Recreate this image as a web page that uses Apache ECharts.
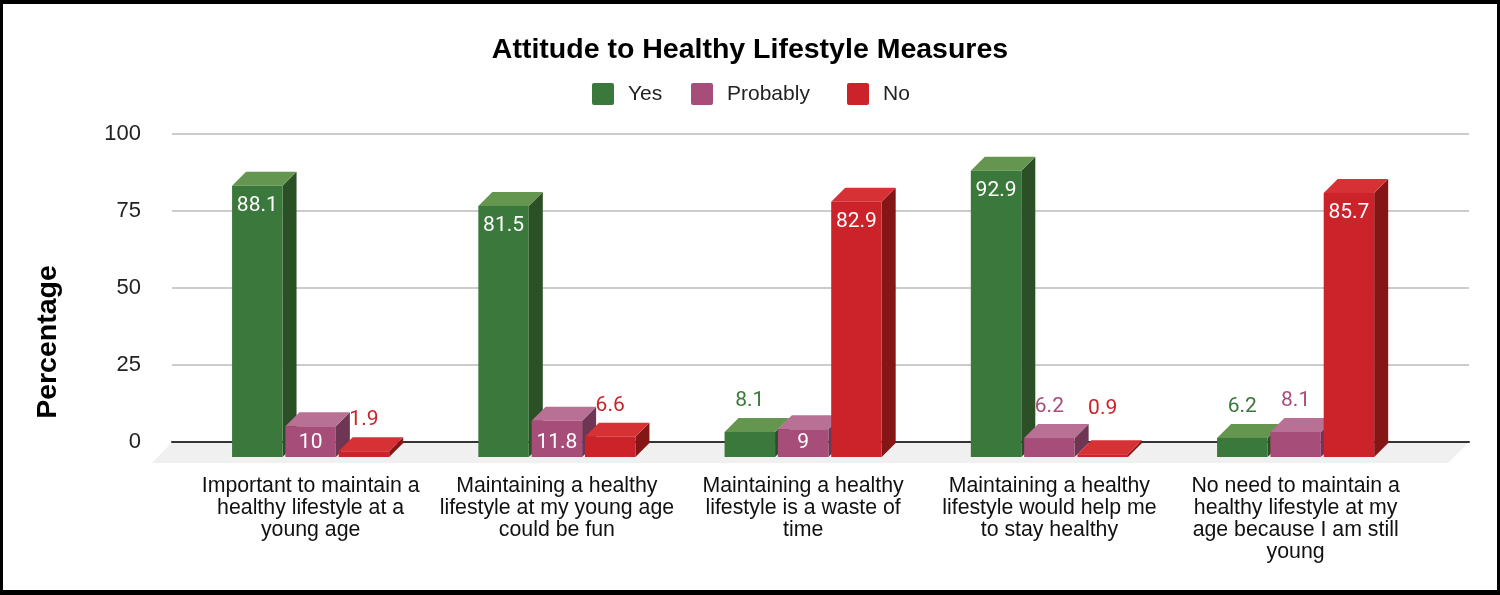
<!DOCTYPE html>
<html>
<head>
<meta charset="utf-8">
<script src="https://cdn.jsdelivr.net/npm/echarts@6/dist/echarts.min.js"></script>
<style>
html,body{margin:0;padding:0;background:#000;width:1500px;height:595px;overflow:hidden}
#frame{position:absolute;left:3px;top:4px;width:1494px;height:586px;background:#fff;overflow:hidden}
#main{position:absolute;left:-3px;top:-4px;width:1500px;height:595px}
</style>
</head>
<body>
<div id="frame"><div id="main"></div></div>
<script>
const categories = [
  "Important to maintain a\nhealthy lifestyle at a\nyoung age",
  "Maintaining a healthy\nlifestyle at my young age\ncould be fun",
  "Maintaining a healthy\nlifestyle is a waste of\ntime",
  "Maintaining a healthy\nlifestyle would help me\nto stay healthy",
  "No need to maintain a\nhealthy lifestyle at my\nage because I am still\nyoung"
];
const yesValues = [88.1, 81.5, 8.1, 92.9, 6.2];
const probablyValues = [10, 11.8, 9, 6.2, 8.1];
const noValues = [1.9, 6.6, 82.9, 0.9, 85.7];
const yTicks = [0, 25, 50, 75, 100];

const chart = echarts.init(document.getElementById('main'), null, {renderer:'canvas'});
const DEPTH = 14;
const FONT = '"Liberation Sans", Arial, sans-serif';
const SWATCH = 'path://M2 0H20Q22 0 22 2V20Q22 22 20 22H2Q0 22 0 20V2Q0 0 2 0Z';

function bars3d(colors, slot) {
  return function (params, api) {
    const idx = api.value(0), v = api.value(1);
    const band = api.size([1, 0])[0];
    const w = band * 0.205;
    const c = api.coord([idx, v]);
    const b = api.coord([idx, 0]);
    const cx = c[0] + slot * band * 0.2165;
    const x0 = cx - w / 2, x1 = cx + w / 2, top = c[1], bot = b[1];
    const d = DEPTH;
    const poly = (pts, fill) => ({type:'polygon', shape:{points:pts}, style:{fill:fill}});
    let ly, fill;
    if (v >= 9) {
      ly = v < 15 ? bot - 14 : top + 20;
      fill = '#fff';
    } else {
      ly = top - d - (v < 1 ? 31 : 17);
      fill = colors.front;
    }
    return {
      type:'group',
      children:[
        poly([[x1,top],[x1+d,top-d],[x1+d,bot-d],[x1,bot]], colors.side),
        poly([[x0,top],[x0+d,top-d],[x1+d,top-d],[x1,top]], colors.top),
        poly([[x0,top],[x1,top],[x1,bot],[x0,bot]], colors.front),
        {type:'text', z2:10, style:{
          text:String(v), x:cx, y:ly, align:'center', verticalAlign:'middle',
          fill:fill, font:'400 21px Roboto, sans-serif'
        }}
      ]
    };
  };
}
const green = {front:'#3b783b', top:'#65964f', side:'#2c5026'};
const purple = {front:'#a64d79', top:'#b87095', side:'#6e3653'};
const red = {front:'#cc2229', top:'#d63235', side:'#851616'};

function mk(name, values, colors, slot) {
  return {
    name:name, type:'custom', xAxisIndex:1, yAxisIndex:1, z:3,
    itemStyle:{color:colors.front},
    encode:{x:0,y:1},
    data:values.map((v,i)=>[i,v]),
    renderItem:bars3d(colors, slot)
  };
}
function lg(name, left) {
  return {
    left:left, top:78, itemWidth:22, itemHeight:22, icon:SWATCH,
    data:[name],
    textStyle:{fontFamily:FONT, fontSize:21, color:'#222', padding:[2,0,0,9]}
  };
}

chart.setOption({
  animation:false,
  backgroundColor:'transparent',
  title:{
    text:'Attitude to Healthy Lifestyle Measures',
    left:'center', top:31,
    textStyle:{fontFamily:FONT, fontWeight:'bold', fontSize:28.5, color:'#000'}
  },
  legend:[lg('Yes',587), lg('Probably',686), lg('No',842)],
  grid:[
    {left:172, width:1297, top:134, height:308},
    {left:187.5, width:1231.25, top:149, height:308}
  ],
  xAxis:[
    {type:'value', gridIndex:0, min:0, max:1, z:2,
     axisLine:{show:true, onZero:false, lineStyle:{color:'#333', width:2}},
     axisTick:{show:false}, axisLabel:{show:false}, splitLine:{show:false}},
    {type:'category', gridIndex:1, data:categories, boundaryGap:true,
     axisLine:{show:false}, axisTick:{show:false},
     axisLabel:{margin:18, interval:0, fontFamily:FONT, fontSize:21.3, lineHeight:22, color:'#111', align:'center', verticalAlign:'top'}}
  ],
  yAxis:[
    {type:'value', gridIndex:0, min:0, max:100, interval:25,
     name:'Percentage', nameLocation:'middle', nameGap:109,
     nameTextStyle:{fontFamily:FONT, fontWeight:'bold', fontSize:28.5, color:'#000', padding:[0,108,0,0]},
     axisLine:{show:false}, axisTick:{show:false},
     axisLabel:{margin:31, fontFamily:FONT, fontSize:22, color:'#222', padding:[4,0,0,0],
       formatter:v=>yTicks.includes(v)?String(v):''},
     splitLine:{show:true, lineStyle:{color:'#ccc', width:2}}},
    {type:'value', gridIndex:1, min:0, max:100, interval:25, show:false, splitLine:{show:false}}
  ],
  series:[
    {
      name:'floor', type:'custom', xAxisIndex:0, yAxisIndex:0, z:1, silent:true,
      encode:{x:0,y:1}, data:[[0,0]],
      renderItem:function(params, api){
        const a = api.coord([0,0]), b = api.coord([1,0]);
        return {type:'polygon', shape:{points:[[a[0],a[1]],[b[0],b[1]],[b[0]-21,b[1]+21],[a[0]-20,a[1]+21]]}, style:{fill:'#f0f0f0'}};
      }
    },
    mk('Yes', yesValues, green, -1),
    mk('Probably', probablyValues, purple, 0),
    mk('No', noValues, red, 1)
  ]
});
</script>
</body>
</html>
